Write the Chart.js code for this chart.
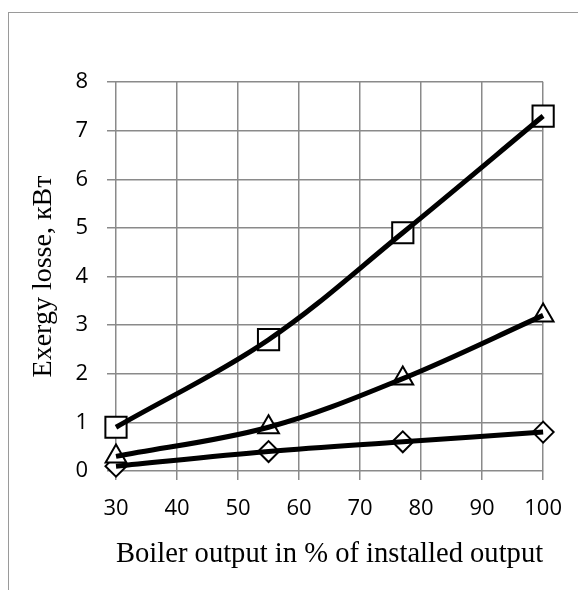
<!DOCTYPE html>
<html>
<head>
<meta charset="utf-8">
<script src="https://cdn.jsdelivr.net/npm/chart.js@4"></script>
<style>
    body { margin: 0; background: #fff; }
    #wrap { position: relative; width: 578px; height: 590px; overflow: hidden; }
    #frame { position: absolute; left: 8px; top: 12px; width: 700px; height: 700px; border: 1.5px solid #9a9a9a; }
    #chart { position: absolute; left: 0; top: 0; }
</style>
</head>
<body>
<div id="wrap">
    <div id="frame"></div>
    <canvas id="chart" width="578" height="590"></canvas>
</div>
<script>
// Boiler output, % of installed output
const outputPercent = [30, 55, 77, 100];
// Exergy loss, kW
const squareSeries = [0.9, 2.7, 4.9, 7.3];
const triangleSeries = [0.3, 0.9, 1.9, 3.2];
const diamondSeries = [0.1, 0.4, 0.6, 0.8];

const xTitle = 'Boiler output in % of installed output';
const yTitle = 'Exergy losse, кВт';

function toPoints(values) {
    return outputPercent.map((x, i) => ({ x: x, y: values[i] }));
}

// lines first so they are painted over the markers
function lineSet(values) {
    return {
        data: toPoints(values),
        showLine: true,
        borderColor: '#000',
        borderWidth: 5,
        tension: 0.35,
        pointRadius: 0,
        clip: false
    };
}

function markerSet(values, style, radius) {
    return {
        data: toPoints(values),
        showLine: false,
        pointStyle: style,
        pointRadius: radius,
        pointBorderWidth: 2,
        pointBorderColor: '#000',
        pointBackgroundColor: '#fff',
        clip: false
    };
}

const tickFont = { family: '"Open Sans", sans-serif', size: 22 };
const serif = '"Liberation Serif", "Times New Roman", serif';
const gridStyle = { color: '#8a8a8a', lineWidth: 1.5, tickLength: 9 };

new Chart(document.getElementById('chart').getContext('2d'), {
    type: 'scatter',
    data: {
        datasets: [
            lineSet(squareSeries),
            lineSet(triangleSeries),
            lineSet(diamondSeries),
            markerSet(squareSeries, 'rect', 15),
            markerSet(triangleSeries, 'triangle', 12),
            markerSet(diamondSeries, 'rectRot', 10.5)
        ]
    },
    options: {
        responsive: false,
        animation: false,
        layout: { padding: { left: 0, top: 82, right: 30, bottom: 0 } },
        plugins: {
            legend: { display: false },
            tooltip: { enabled: false }
        },
        scales: {
            x: {
                type: 'linear',
                min: 30,
                max: 100,
                grid: gridStyle,
                border: { display: false },
                ticks: { stepSize: 10, color: '#000', font: tickFont, padding: 16, maxRotation: 0 },
                title: { display: true, text: xTitle, color: '#000', font: { family: serif, size: 29 }, padding: { top: 0, bottom: 18 } },
                afterFit: function(scale) { scale.height = 119; }
            },
            y: {
                type: 'linear',
                min: 0,
                max: 8,
                grid: gridStyle,
                border: { display: false },
                ticks: { stepSize: 1, color: '#000', font: tickFont, padding: 19 },
                title: { display: true, text: yTitle, color: '#000', font: { family: serif, size: 28 }, padding: { top: 27, bottom: 0 } },
                afterFit: function(scale) { scale.width = 116; }
            }
        }
    }
});
</script>
</body>
</html>
